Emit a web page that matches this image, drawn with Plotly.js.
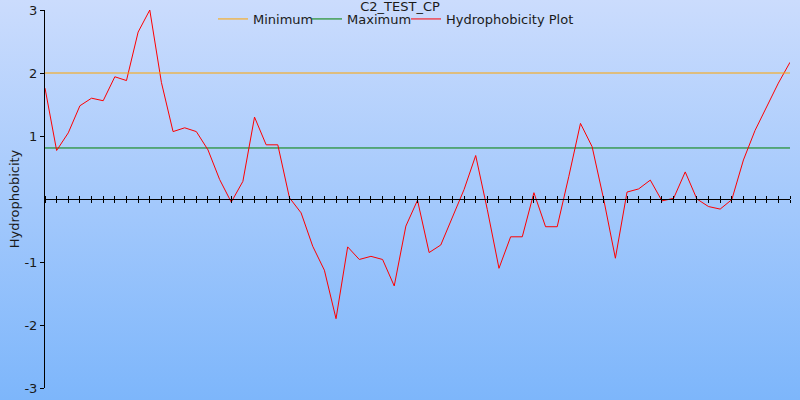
<!DOCTYPE html>
<html>
<head>
<meta charset="utf-8">
<script src="https://cdn.plot.ly/plotly-3.0.1.min.js"></script>
<style>
  html, body { margin: 0; padding: 0; }
  #chart { width: 800px; height: 400px; background: linear-gradient(to bottom, #cbdcfd 0%, #7db6fb 100%); }
</style>
</head>
<body>
<div id="chart"></div>
<script>
// Data
const positions = Array.from({length: 65}, (_, i) => i);
const hydrophobicity = [
  1.76, 0.77, 1.05, 1.48, 1.60, 1.56, 1.94, 1.88, 2.65, 3.00,
  1.85, 1.07, 1.13, 1.07, 0.78, 0.31, -0.05, 0.28, 1.30, 0.86,
  0.86, 0.02, -0.22, -0.75, -1.13, -1.90, -0.76, -0.96, -0.91, -0.96,
  -1.38, -0.43, -0.02, -0.85, -0.73, -0.30, 0.15, 0.69, -0.17, -1.10,
  -0.60, -0.60, 0.10, -0.44, -0.44, 0.36, 1.20, 0.83, -0.01, -0.94,
  0.11, 0.16, 0.30, -0.03, 0.01, 0.43, 0.00, -0.12, -0.16, -0.01,
  0.62, 1.09, 1.47, 1.84, 2.17
];
const minimumLevel = 2.0;
const maximumLevel = 0.81;
const yTickVals = [-3, -2, -1, 1, 2, 3];
const yTickText = ['-3', '-2', '-1', '1', '2', '3'];
const xStart = positions[0];
const xEnd = positions[positions.length - 1];

const font = {family: 'DejaVu Sans, Verdana, sans-serif', size: 13, color: '#1a1a1a'};

const traces = [
  {x: [xStart, xEnd], y: [minimumLevel, minimumLevel], mode: 'lines', name: 'Minimum',
   xaxis: 'x2', legend: 'legend',
   line: {color: '#ffa500', width: 1}, hoverinfo: 'skip'},
  {x: [xStart, xEnd], y: [maximumLevel, maximumLevel], mode: 'lines', name: 'Maximum',
   legend: 'legend2',
   line: {color: '#008000', width: 1}, hoverinfo: 'skip'},
  {x: positions, y: hydrophobicity, mode: 'lines', name: 'Hydrophobicity Plot',
   legend: 'legend3',
   line: {color: '#ff0000', width: 1}}
];

function legendAt(px) {
  return {orientation: 'h', xref: 'container', yref: 'container',
          x: px / 800, xanchor: 'left', y: 1 - 19 / 400, yanchor: 'middle',
          bgcolor: 'rgba(0,0,0,0)', font: font, itemwidth: 30};
}

const layout = {
  width: 800, height: 400,
  margin: {l: 45, r: 10, t: 10, b: 12, autoexpand: false},
  paper_bgcolor: 'rgba(0,0,0,0)',
  plot_bgcolor: 'rgba(0,0,0,0)',
  font: font,
  showlegend: true,
  title: {text: 'C2_TEST_CP', x: 0.5, xref: 'container', y: 0.996, yref: 'container', yanchor: 'top', font: font},
  legend: legendAt(213),
  legend2: legendAt(307),
  legend3: legendAt(406),
  xaxis: {range: [xStart, xEnd], anchor: 'free', position: 0.5, side: 'bottom',
          showline: true, linecolor: '#000', linewidth: 1,
          ticks: 'outside', ticklen: 3, tickwidth: 1, tickcolor: '#000',
          tick0: 0, dtick: 1, showticklabels: false, showgrid: false, zeroline: false},
  xaxis2: {range: [xStart, xEnd], overlaying: 'x', anchor: 'free', position: 0.5, side: 'top',
           showline: false, ticks: 'outside', ticklen: 3, tickwidth: 1, tickcolor: '#000',
           tick0: 0, dtick: 1, showticklabels: false, showgrid: false, zeroline: false},
  yaxis: {range: [-3, 3], showline: true, linecolor: '#000', linewidth: 1,
          ticks: 'outside', ticklen: 4, tickcolor: '#000',
          tickvals: yTickVals, ticktext: yTickText, showgrid: false, zeroline: false,
          tickfont: font, automargin: false,
          title: {text: 'Hydrophobicity', font: font, standoff: 1}}
};

Plotly.newPlot('chart', traces, layout, {displayModeBar: false, staticPlot: true});
</script>
</body>
</html>
